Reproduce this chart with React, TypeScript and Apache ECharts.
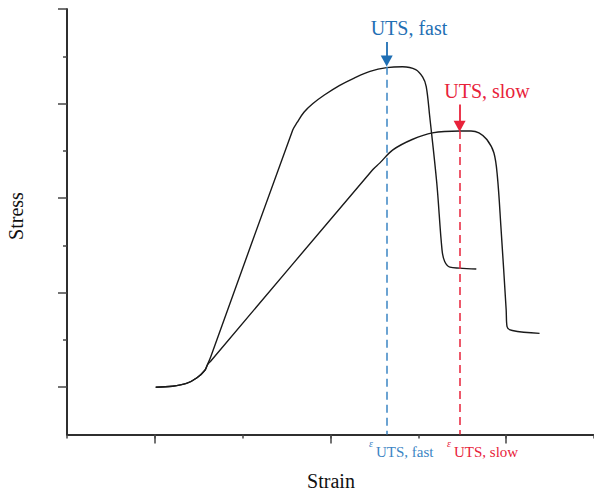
import React, { useEffect, useRef } from "react";
import * as echarts from "echarts";

// Strain (x) and stress (y) in arbitrary units
const fastStrain = [1.01, 1.2, 1.36, 1.48, 1.57, 1.6, 1.64, 2.57, 2.62, 2.7, 2.8, 2.93, 3.1, 3.27, 3.45, 3.64, 3.82, 3.97, 4.05, 4.09, 4.13, 4.21, 4.27, 4.3, 4.36, 4.47, 4.66];
const fastStress = [0.5, 0.51, 0.54, 0.6, 0.68, 0.74, 0.83, 3.22, 3.3, 3.41, 3.5, 3.59, 3.69, 3.77, 3.84, 3.88, 3.89, 3.86, 3.78, 3.68, 3.36, 2.66, 1.95, 1.83, 1.77, 1.76, 1.75];

const slowStrain = [1.01, 1.2, 1.36, 1.48, 1.57, 1.6, 1.64, 3.48, 3.56, 3.71, 3.93, 4.16, 4.47, 4.6, 4.69, 4.78, 4.86, 4.9, 4.94, 5.0, 5.01, 5.07, 5.38];
const slowStress = [0.5, 0.51, 0.54, 0.6, 0.68, 0.74, 0.78, 2.8, 2.87, 3.01, 3.12, 3.19, 3.21, 3.21, 3.19, 3.12, 2.98, 2.73, 2.2, 1.32, 1.14, 1.1, 1.07];

const utsFastStrain = 3.64;
const utsFastStress = 3.89;
const utsSlowStrain = 4.47;
const utsSlowStress = 3.21;

const xMajorTicks = [1, 3, 5];
const yMinorTicks = [1, 2, 3, 4];
const yMajorTicks = [0.5, 1.5, 2.5, 3.5, 4.5];

const BLUE = "#3b85c4";
const BLUE_ARROW = "#1f6fb4";
const RED = "#e8223a";
const FONT = "'Liberation Serif', 'DejaVu Serif', serif";

export default function App() {
  const ref = useRef<HTMLDivElement>(null);
  useEffect(() => {
    if (!ref.current) return;
    const chart = echarts.init(ref.current, null, { renderer: "svg" });
    const zip = (a: number[], b: number[]) => a.map((v, i) => [v, b[i]]);
    const axisLine = { lineStyle: { color: "#222", width: 1.5 } };
    const baseX = {
      type: "value",
      min: 0,
      max: 6,
      interval: 1,
      axisLine,
      axisLabel: { show: false },
      splitLine: { show: false },
    };
    const baseY = {
      type: "value",
      min: 0,
      max: 4.5,
      interval: 0.5,
      axisLine,
      axisLabel: { show: false },
      splitLine: { show: false },
    };
    chart.setOption({
      animation: false,
      grid: { left: 67, right: 0, top: 9, bottom: 62.5 },
      xAxis: [
        { ...baseX, axisTick: { length: 4, lineStyle: { color: "#444", width: 1.5 } } },
        { ...baseX, position: "bottom", axisTick: { length: 9, customValues: xMajorTicks, lineStyle: { color: "#444", width: 1.5 } } },
      ],
      yAxis: [
        { ...baseY, axisTick: { length: 4, customValues: yMinorTicks, lineStyle: { color: "#444", width: 1.5 } } },
        { ...baseY, position: "left", axisTick: { length: 9, customValues: yMajorTicks, lineStyle: { color: "#444", width: 1.5 } } },
      ],
      series: [
        {
          type: "line",
          data: zip(fastStrain, fastStress),
          showSymbol: false,
          smooth: 0.35,
          lineStyle: { color: "#1a1a1a", width: 1.4 },
          z: 3,
        },
        {
          type: "line",
          data: zip(slowStrain, slowStress),
          showSymbol: false,
          smooth: 0.35,
          lineStyle: { color: "#1a1a1a", width: 1.4 },
          z: 3,
        },
        {
          type: "line",
          data: [],
          markLine: {
            silent: true,
            symbol: ["none", "none"],
            label: { show: false },
            data: [
              [
                { coord: [utsFastStrain, utsFastStress], lineStyle: { color: BLUE, type: [8, 5], width: 1.5 } },
                { coord: [utsFastStrain, 0] },
              ],
              [
                { coord: [utsSlowStrain, utsSlowStress], lineStyle: { color: RED, type: [8, 5], width: 1.5 } },
                { coord: [utsSlowStrain, 0] },
              ],
            ],
          },
        },
        {
          type: "line",
          data: [],
          markLine: {
            silent: true,
            symbol: ["none", "triangle"],
            symbolSize: [12, 11],
            label: { show: false },
            data: [
              [
                { coord: [utsFastStrain, 4.15], lineStyle: { color: BLUE_ARROW, type: "solid", width: 1.8 }, itemStyle: { color: BLUE_ARROW } },
                { coord: [utsFastStrain, 3.95] },
              ],
              [
                { coord: [utsSlowStrain, 3.49], lineStyle: { color: RED, type: "solid", width: 1.8 }, itemStyle: { color: RED } },
                { coord: [utsSlowStrain, 3.26] },
              ],
            ],
          },
        },
      ],
      graphic: [
        { type: "text", x: 409, y: 38, style: { text: "UTS, fast", font: `20px ${FONT}`, fill: BLUE_ARROW, align: "center", verticalAlign: "bottom" } },
        { type: "text", x: 487, y: 101, style: { text: "UTS, slow", font: `20px ${FONT}`, fill: RED, align: "center", verticalAlign: "bottom" } },
        { type: "text", x: 371, y: 448, style: { text: "ε", font: `italic 10px ${FONT}`, fill: BLUE, align: "center", verticalAlign: "bottom" } },
        { type: "text", x: 376, y: 459, style: { text: "UTS, fast", font: `15px ${FONT}`, fill: BLUE, align: "left", verticalAlign: "bottom" } },
        { type: "text", x: 449, y: 448, style: { text: "ε", font: `italic 10px ${FONT}`, fill: RED, align: "center", verticalAlign: "bottom" } },
        { type: "text", x: 454, y: 459, style: { text: "UTS, slow", font: `15px ${FONT}`, fill: RED, align: "left", verticalAlign: "bottom" } },
        { type: "text", x: 331, y: 491, style: { text: "Strain", font: `20px ${FONT}`, fill: "#111", align: "center", verticalAlign: "bottom" } },
        { type: "text", x: 16, y: 216, rotation: Math.PI / 2, style: { text: "Stress", font: `20px ${FONT}`, fill: "#111", align: "center", verticalAlign: "middle" } },
      ],
    });
    return () => chart.dispose();
  }, []);
  return <div ref={ref} style={{ position: "absolute", left: 0, top: 0, width: 594, height: 497 }} />;
}
